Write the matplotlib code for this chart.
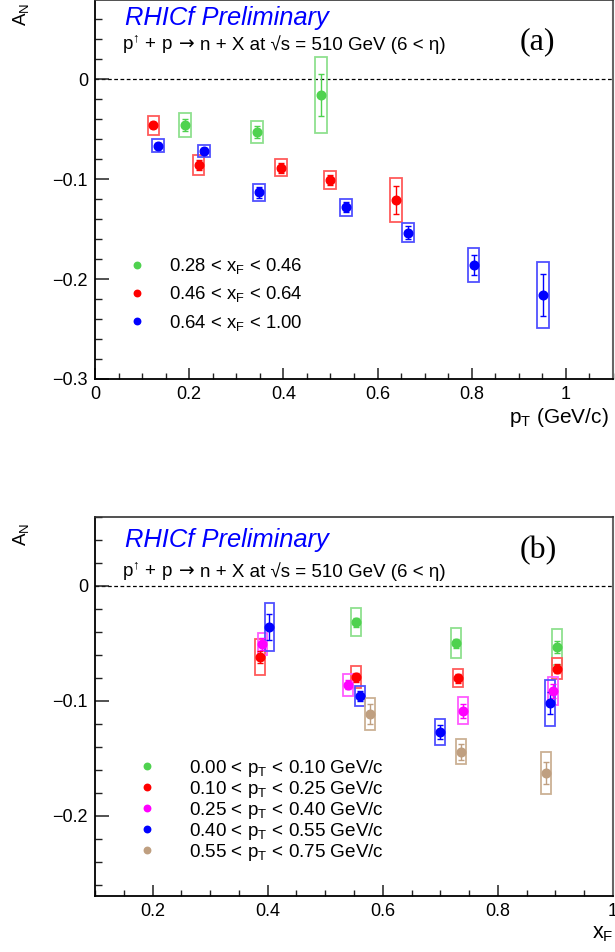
import matplotlib
matplotlib.use("Agg")
import matplotlib.pyplot as plt
from matplotlib.patches import Rectangle
from matplotlib.ticker import FixedLocator, FixedFormatter, MultipleLocator

plt.rcParams['font.family'] = ['Liberation Sans', 'DejaVu Sans']
plt.rcParams['mathtext.default'] = 'regular'

# ---------------- Panel (a): A_N vs pT ----------------
a_labels = ['0.28 < x$_{F}$ < 0.46', '0.46 < x$_{F}$ < 0.64', '0.64 < x$_{F}$ < 1.00']
a_colors = ['#4fd24f', '#ff0000', '#0000ff']
a_box_colors = ['#8fe08f', '#ff5a5a', '#5050ff']

a_green_pt = [0.191, 0.344, 0.480]
a_green_an = [-0.0463, -0.053, -0.0163]
a_green_stat = [0.006, 0.006, 0.021]
a_green_syst = [0.012, 0.011, 0.038]

a_red_pt = [0.124, 0.220, 0.395, 0.499, 0.640]
a_red_an = [-0.0463, -0.086, -0.0887, -0.101, -0.121]
a_red_stat = [0.003, 0.005, 0.005, 0.005, 0.0138]
a_red_syst = [0.0098, 0.0103, 0.0087, 0.0087, 0.0217]

a_blue_pt = [0.133, 0.231, 0.349, 0.533, 0.664, 0.804, 0.951]
a_blue_an = [-0.0667, -0.0717, -0.1134, -0.1282, -0.1537, -0.186, -0.216]
a_blue_stat = [0.003, 0.003, 0.0057, 0.005, 0.0064, 0.0104, 0.021]
a_blue_syst = [0.0067, 0.006, 0.0087, 0.0085, 0.0092, 0.017, 0.033]

a_xticks = [0, 0.2, 0.4, 0.6, 0.8, 1.0]
a_xticklabels = ['0', '0.2', '0.4', '0.6', '0.8', '1']
a_yticks = [0, -0.1, -0.2, -0.3]
a_yticklabels = ['0', '\u22120.1', '\u22120.2', '\u22120.3']

# ---------------- Panel (b): A_N vs xF ----------------
b_labels = ['0.00 < p$_{T}$ < 0.10 GeV/c', '0.10 < p$_{T}$ < 0.25 GeV/c',
            '0.25 < p$_{T}$ < 0.40 GeV/c', '0.40 < p$_{T}$ < 0.55 GeV/c',
            '0.55 < p$_{T}$ < 0.75 GeV/c']
b_colors = ['#4fd24f', '#ff0000', '#ff00ff', '#0000ff', '#bf9f80']
b_box_colors = ['#8fe08f', '#ff5a5a', '#ff5aff', '#5050ff', '#cbb194']

b_green_xf = [0.554, 0.727, 0.903]
b_green_an = [-0.0316, -0.0499, -0.053]
b_green_stat = [0.004, 0.004, 0.005]
b_green_syst = [0.0123, 0.013, 0.0158]

b_red_xf = [0.387, 0.554, 0.731, 0.903]
b_red_an = [-0.062, -0.0794, -0.0803, -0.0722]
b_red_stat = [0.0054, 0.004, 0.004, 0.004]
b_red_syst = [0.0157, 0.0094, 0.008, 0.009]

b_mag_xf = [0.391, 0.539, 0.739, 0.896]
b_mag_an = [-0.0504, -0.0861, -0.1087, -0.0913]
b_mag_stat = [0.005, 0.004, 0.006, 0.006]
b_mag_syst = [0.0097, 0.0096, 0.0117, 0.0124]

b_blue_xf = [0.403, 0.561, 0.699, 0.890]
b_blue_an = [-0.0357, -0.0959, -0.1272, -0.1017]
b_blue_stat = [0.0113, 0.004, 0.0062, 0.0096]
b_blue_syst = [0.0206, 0.0085, 0.0113, 0.020]

b_brown_xf = [0.578, 0.736, 0.884]
b_brown_an = [-0.1116, -0.1443, -0.1629]
b_brown_stat = [0.009, 0.007, 0.0094]
b_brown_syst = [0.0139, 0.0109, 0.018]

b_xticks = [0.2, 0.4, 0.6, 0.8, 1.0]
b_xticklabels = ['0.2', '0.4', '0.6', '0.8', '1']
b_yticks = [0, -0.1, -0.2]
b_yticklabels = ['0', '\u22120.1', '\u22120.2']

W, H = 615, 952
fig = plt.figure(figsize=(W / 100, H / 100), dpi=100)


def fx(px):
    return px / W


def fy(py):
    return 1 - py / H


ax_a = fig.add_axes([fx(95), fy(379), fx(613) - fx(95), 379 / H])
ax_b = fig.add_axes([fx(95), fy(896), fx(613) - fx(95), 379 / H])


def draw_series(ax, x, y, stat, syst, color, bcolor, halfw, label):
    for xi, yi, si in zip(x, y, syst):
        ax.add_patch(Rectangle((xi - halfw, yi - si), 2 * halfw, 2 * si,
                               fill=False, edgecolor=bcolor, lw=1.3, zorder=2))
    ax.errorbar(x, y, yerr=stat, fmt='none', ecolor=color, elinewidth=1.0,
                capsize=2, capthick=1.0, zorder=3)
    ax.plot(x, y, 'o', color=color, ms=6.2, mec=color, zorder=4, label=label)


def style_axis(ax, xlim, ylim, xticks, xlabels, yticks, ylabels):
    ax.set_xlim(*xlim)
    ax.set_ylim(*ylim)
    ax.xaxis.set_major_locator(FixedLocator(xticks))
    ax.xaxis.set_major_formatter(FixedFormatter(xlabels))
    ax.yaxis.set_major_locator(FixedLocator(yticks))
    ax.yaxis.set_major_formatter(FixedFormatter(ylabels))
    ax.xaxis.set_minor_locator(MultipleLocator(0.05))
    ax.yaxis.set_minor_locator(MultipleLocator(0.02))
    ax.tick_params(axis='both', which='both', direction='in', top=False, right=False,
                   labelsize=13, colors='#222222', labelcolor='black')
    ax.tick_params(axis='y', which='major', length=10, width=1.1, pad=5)
    ax.tick_params(axis='y', which='minor', length=5, width=1.0)
    ax.tick_params(axis='x', which='major', length=8, width=1.1, pad=5)
    ax.tick_params(axis='x', which='minor', length=4, width=1.0)
    for s in ['left', 'bottom']:
        ax.spines[s].set_color('black')
        ax.spines[s].set_linewidth(1.3)
    ax.spines['top'].set_color('#333333')
    ax.spines['top'].set_linewidth(1.2)
    ax.spines['right'].set_color('#666666')
    ax.spines['right'].set_linewidth(1.5)
    ax.axhline(0, color='black', lw=0.9, ls=(0, (3, 2)), zorder=1)


# Panel (a)
hw_a = 0.0125
draw_series(ax_a, a_green_pt, a_green_an, a_green_stat, a_green_syst, a_colors[0], a_box_colors[0], hw_a, a_labels[0])
draw_series(ax_a, a_red_pt, a_red_an, a_red_stat, a_red_syst, a_colors[1], a_box_colors[1], hw_a, a_labels[1])
draw_series(ax_a, a_blue_pt, a_blue_an, a_blue_stat, a_blue_syst, a_colors[2], a_box_colors[2], hw_a, a_labels[2])
style_axis(ax_a, (0, 1.1), (-0.3, 0.079), a_xticks, a_xticklabels, a_yticks, a_yticklabels)

# Panel (b)
hw_b = 0.0085
draw_series(ax_b, b_green_xf, b_green_an, b_green_stat, b_green_syst, b_colors[0], b_box_colors[0], hw_b, b_labels[0])
draw_series(ax_b, b_red_xf, b_red_an, b_red_stat, b_red_syst, b_colors[1], b_box_colors[1], hw_b, b_labels[1])
draw_series(ax_b, b_mag_xf, b_mag_an, b_mag_stat, b_mag_syst, b_colors[2], b_box_colors[2], hw_b, b_labels[2])
draw_series(ax_b, b_blue_xf, b_blue_an, b_blue_stat, b_blue_syst, b_colors[3], b_box_colors[3], hw_b, b_labels[3])
draw_series(ax_b, b_brown_xf, b_brown_an, b_brown_stat, b_brown_syst, b_colors[4], b_box_colors[4], hw_b, b_labels[4])
style_axis(ax_b, (0.1, 1.0), (-0.27, 0.06), b_xticks, b_xticklabels, b_yticks, b_yticklabels)

# Legends
fs_a = 13.3
fs_a_px = fs_a * 100 / 72
fig.legend(handles=[l for l in ax_a.get_lines() if not l.get_label().startswith('_')],
           loc='upper left', frameon=False, fontsize=fs_a, markerscale=0.75,
           handlelength=2.0, handletextpad=0.75, borderpad=0, borderaxespad=0,
           labelspacing=0.45,
           bbox_to_anchor=(fx(137 - fs_a_px), fy(256)))

fs_b = 13.6
fs_b_px = fs_b * 100 / 72
fig.legend(handles=[l for l in ax_b.get_lines() if not l.get_label().startswith('_')],
           loc='upper left', frameon=False, fontsize=fs_b, markerscale=0.75,
           handlelength=2.0, handletextpad=1.2, borderpad=0, borderaxespad=0,
           labelspacing=0.0,
           bbox_to_anchor=(fx(147 - fs_b_px), fy(758)))

# Texts
renderer = fig.canvas.get_renderer()


def draw_pieces(x_px, base_px, pieces, fontsize):
    x = x_px
    for text, fam, gap in pieces:
        t = fig.text(fx(x), fy(base_px), text, fontsize=fontsize, family=fam,
                     va='baseline', ha='left')
        x += t.get_window_extent(renderer).width + gap


sans = ['Liberation Sans', 'DejaVu Sans']
line2_pieces = [('p$^{\u2191}$ + p', sans, 6), ('\u2192', ['DejaVu Sans'], 6),
                ('n + X at \u221as = 510 GeV (6 < \u03b7)', sans, 0)]

for base_r, base_l2, base_tag, tag in [(25, 50, 49, '(a)'), (546.7, 577, 558, '(b)')]:
    fig.text(fx(125), fy(base_r), 'RHICf Preliminary', color='#0000ff', style='italic',
             fontsize=18.4, va='baseline', ha='left')
    draw_pieces(122, base_l2, line2_pieces, 13.5)
    fig.text(fx(520), fy(base_tag), tag, fontsize=23, va='baseline', ha='left',
             family=['Liberation Serif', 'DejaVu Serif'])

# Axis titles
fig.text(fx(21), fy(26), 'A$_{N}$', rotation=90, fontsize=13.5, ha='center', va='bottom')
fig.text(fx(21), fy(546), 'A$_{N}$', rotation=90, fontsize=13.5, ha='center', va='bottom')
fig.text(fx(609), fy(423), 'p$_{T}$ (GeV/c)', fontsize=15, ha='right', va='baseline')
fig.text(fx(614), fy(938), 'x$_{F}$', fontsize=15.5, ha='right', va='baseline')

fig.savefig('out.png', dpi=100)
